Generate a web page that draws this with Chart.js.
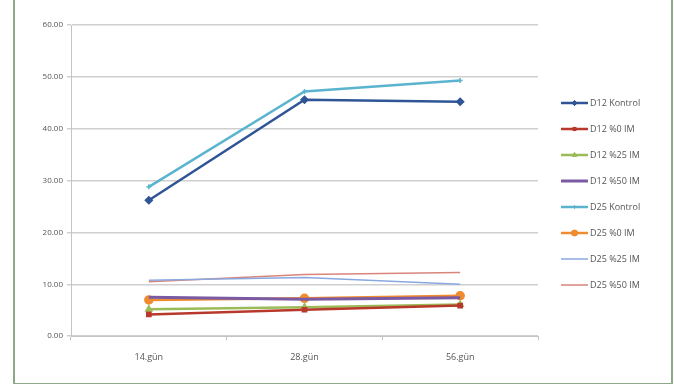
<!DOCTYPE html>
<html>
<head>
<meta charset="utf-8">
<script src="https://cdn.jsdelivr.net/npm/chart.js@4.4.1/dist/chart.umd.min.js"></script>
<style>
  html, body { margin: 0; padding: 0; background: #fff; }
  #frame {
    position: absolute; left: 13px; top: -2px;
    width: 656px; height: 383px;
    border: 2px solid #8fa88a; background: #fff;
  }
  #wrap { position: absolute; left: 0; top: 0; width: 656px; height: 383px; }
</style>
</head>
<body>
<div id="frame"><div id="wrap"><canvas id="grafik"></canvas></div></div>
<script>
// Kategoriler ve seriler
const gunler = ["14.gün", "28.gün", "56.gün"];
const d12Kontrol = [26.2, 45.6, 45.2];
const d12Im0 = [4.2, 5.1, 5.9];
const d12Im25 = [5.2, 5.6, 6.1];
const d12Im50 = [7.5, 7.1, 7.4];
const d25Kontrol = [28.8, 47.2, 49.3];
const d25Im0 = [7.0, 7.3, 7.8];
const d25Im25 = [10.8, 11.3, 10.0];
const d25Im50 = [10.5, 11.9, 12.3];
const yTicks = [0, 10, 20, 30, 40, 50, 60];

const seriler = [
  { label: "D12 Kontrol", data: d12Kontrol, color: "#2f5597", width: 2.5, point: "rectRot", r: 3.5 },
  { label: "D12 %0 IM",   data: d12Im0,     color: "#b8392c", width: 2.5, point: "rect",    r: 3 },
  { label: "D12 %25 IM",  data: d12Im25,    color: "#9bbb59", width: 2.5, point: "triangle", r: 3.5 },
  { label: "D12 %50 IM",  data: d12Im50,    color: "#7a5aa3", width: 3,   point: false,     r: 0 },
  { label: "D25 Kontrol", data: d25Kontrol, color: "#5ab4cf", width: 2.5, point: "cross",   r: 2.5 },
  { label: "D25 %0 IM",   data: d25Im0,     color: "#f08c2f", width: 2.5, point: "circle",  r: 4 },
  { label: "D25 %25 IM",  data: d25Im25,    color: "#8aa8e0", width: 1.5, point: false,     r: 0 },
  { label: "D25 %50 IM",  data: d25Im50,    color: "#d9857c", width: 1.5, point: false,     r: 0 }
];

// Excel tarzi gosterge: cizgi + isaretci
const cizgiLejant = {
  id: "cizgiLejant",
  afterDraw(chart) {
    const ctx = chart.ctx;
    const area = chart.chartArea;
    const x0 = area.right + 23;
    const adim = 26;
    const y0 = 103;
    ctx.save();
    ctx.font = "9px 'Open Sans', sans-serif";
    ctx.textBaseline = "middle";
    chart.data.datasets.forEach((ds, i) => {
      const y = y0 + i * adim;
      ctx.strokeStyle = ds.borderColor;
      ctx.lineWidth = ds.borderWidth;
      ctx.beginPath();
      ctx.moveTo(x0, y);
      ctx.lineTo(x0 + 27, y);
      ctx.stroke();
      if (ds.pointStyle) {
        ctx.lineWidth = 1;
        Chart.helpers.drawPoint(ctx, {
          pointStyle: ds.pointStyle, radius: ds.pointRadius * 0.75,
          borderWidth: 1, rotation: 0
        }, x0 + 13.5, y);
        ctx.fillStyle = ds.borderColor;
        ctx.fill();
      }
      ctx.fillStyle = "#555";
      ctx.fillText(ds.label, x0 + 29, y);
    });
    ctx.restore();
  }
};

new Chart("grafik", {
  type: "line",
  data: {
    labels: gunler,
    datasets: seriler.map(s => ({
      label: s.label,
      data: s.data,
      borderColor: s.color,
      backgroundColor: s.color,
      borderWidth: s.width,
      pointStyle: s.point,
      pointRadius: s.r,
      pointBorderWidth: 1.5,
      tension: 0
    }))
  },
  options: {
    responsive: true,
    maintainAspectRatio: false,
    animation: false,
    layout: { padding: { left: 0, right: 133, top: 25, bottom: 8 } },
    plugins: {
      legend: { display: false },
      tooltip: { enabled: false }
    },
    scales: {
      x: {
        offset: true,
        grid: { display: true, drawOnChartArea: false, tickLength: 4, color: "#c4c4c4", offset: true },
        border: { color: "#c4c4c4" },
        ticks: { color: "#555", font: { family: "'Open Sans', sans-serif", size: 9 }, padding: 12 }
      },
      y: {
        min: 0, max: 60,
        afterFit(scale) { scale.width = 56; },
        afterBuildTicks(scale) { scale.ticks = yTicks.map(v => ({ value: v })); },
        grid: { color: "#cfcfcf", lineWidth: 1.5, tickLength: 4 },
        border: { color: "#c4c4c4" },
        ticks: {
          color: "#555",
          font: { family: "'Open Sans', sans-serif", size: 8 },
          padding: 4,
          callback: v => v.toFixed(2)
        }
      }
    }
  },
  plugins: [cizgiLejant]
});
</script>
</body>
</html>
